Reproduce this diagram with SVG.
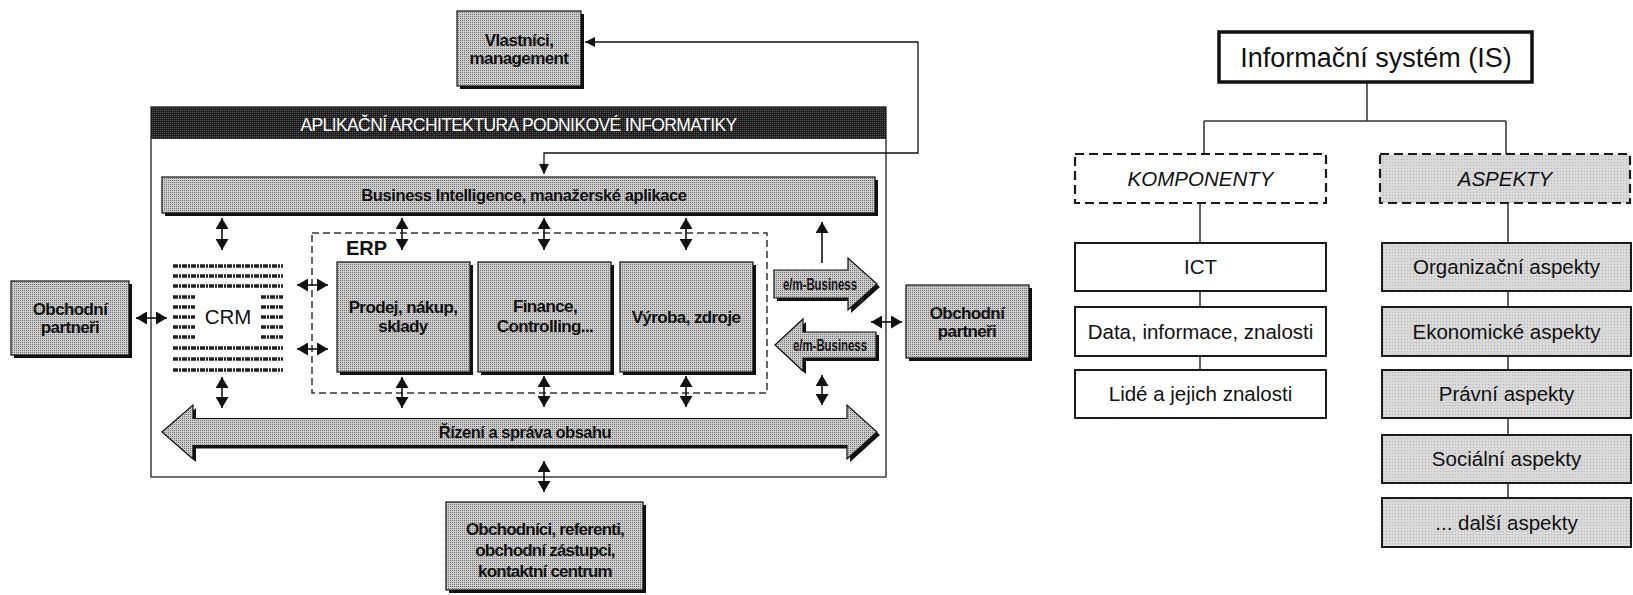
<svg xmlns="http://www.w3.org/2000/svg" width="1633" height="595" viewBox="0 0 1633 595">
<defs>
  <pattern id="ht" width="2" height="2" patternUnits="userSpaceOnUse">
    <rect width="2" height="2" fill="#cbcbcb"/>
    <rect width="1" height="1" fill="#747474"/>
  </pattern>
  <pattern id="htd" width="2" height="2" patternUnits="userSpaceOnUse">
    <rect width="2" height="2" fill="#1e1e1e"/>
    <rect width="1" height="1" fill="#555"/>
  </pattern>
  <pattern id="hts" width="3" height="3" patternUnits="userSpaceOnUse">
    <rect width="3" height="3" fill="#d9d9d9"/>
    <rect width="1" height="1" fill="#b4b4b4"/>
  </pattern>
  <marker id="ah" viewBox="0 0 11 13" refX="11" refY="6.5" markerWidth="11" markerHeight="13" markerUnits="userSpaceOnUse" orient="auto-start-reverse">
    <path d="M0,0 L11,6.5 L0,13 Z" fill="#111"/>
  </marker>
  <marker id="ahs" viewBox="0 0 10 10" refX="10" refY="5" markerWidth="10" markerHeight="10" markerUnits="userSpaceOnUse" orient="auto-start-reverse">
    <path d="M0,0 L10,5 L0,10 Z" fill="#111"/>
  </marker>
</defs>
<style>
  .gbox { fill: url(#ht); stroke: #111; stroke-width: 1.2; }
  .shadow { fill: #111; }
  .lb { font-family: "Liberation Sans", Arial, sans-serif; font-weight: bold; font-size: 17px; letter-spacing: -0.6px; fill: #111; text-anchor: middle; }
  .em { font-family: "Liberation Sans", Arial, sans-serif; font-weight: bold; font-size: 16px; fill: #111; text-anchor: middle; }
  .dbl { stroke: #111; stroke-width: 1.6; fill: none; marker-start: url(#ah); marker-end: url(#ah); }
  .rb { fill: #fff; stroke: #1a1a1a; stroke-width: 2; }
  .rg { fill: url(#hts); stroke: #1a1a1a; stroke-width: 2; }
  .rt { font-family: "Liberation Sans", Arial, sans-serif; font-size: 20.5px; fill: #111; text-anchor: middle; }
  .tree { stroke: #333; stroke-width: 1.5; fill: none; }
  .stripe { stroke: #222; stroke-width: 3.4; stroke-dasharray: 5 1 2 1; fill: none; }
</style>

<!-- LEFT DIAGRAM -->
<g id="frame">
  <rect x="151" y="107" width="735" height="370" fill="#fff" stroke="#333" stroke-width="1.4"/>
  <rect x="151" y="107" width="735" height="32" fill="url(#htd)"/>
  <text x="518.5" y="131" font-family="Liberation Sans, Arial, sans-serif" font-size="17.5" letter-spacing="-0.6" fill="#fff" text-anchor="middle">APLIKAČNÍ ARCHITEKTURA PODNIKOVÉ INFORMATIKY</text>
</g>

<g id="vlastnici">
  <rect class="shadow" x="460" y="14" width="124" height="75"/>
  <rect class="gbox" x="457" y="11" width="124" height="75"/>
  <text class="lb" x="519" y="46">Vlastníci,</text>
  <text class="lb" x="519" y="64">management</text>
</g>

<g id="bi">
  <rect class="shadow" x="165" y="180" width="713" height="36"/>
  <rect class="gbox" x="162" y="177" width="713" height="36"/>
  <text class="lb" x="524" y="201" style="font-size:16.5px;letter-spacing:-0.4px">Business Intelligence, manažerské aplikace</text>
</g>

<g id="erp">
  <rect x="312" y="233" width="455" height="160" fill="none" stroke="#333" stroke-width="1.5" stroke-dasharray="7 4"/>
  <text x="346" y="255" font-family="Liberation Sans, Arial, sans-serif" font-weight="bold" font-size="20" fill="#111">ERP</text>
</g>

<g id="crm">
  <path class="stripe" d="M173,266 H283 M173,276 H283 M173,286 H283 M173,348 H283 M173,359 H283 M173,370 H283 M173,297 H195 M261,297 H283 M173,307 H195 M261,307 H283 M173,317 H195 M261,317 H283 M173,327 H195 M261,327 H283 M173,337 H195 M261,337 H283"/>
  <text x="228" y="324" font-family="Liberation Sans, Arial, sans-serif" font-size="20.5" fill="#111" text-anchor="middle">CRM</text>
</g>

<g id="prodej">
  <rect class="shadow" x="340" y="265" width="133" height="110"/>
  <rect class="gbox" x="337" y="262" width="133" height="110"/>
  <text class="lb" x="403" y="313">Prodej, nákup,</text>
  <text class="lb" x="403" y="332">sklady</text>
</g>

<g id="finance">
  <rect class="shadow" x="481" y="265" width="133" height="110"/>
  <rect class="gbox" x="478" y="262" width="133" height="110"/>
  <text class="lb" x="545" y="312">Finance,</text>
  <text class="lb" x="545" y="332">Controlling...</text>
</g>

<g id="vyroba">
  <rect class="shadow" x="623" y="265" width="133" height="110"/>
  <rect class="gbox" x="620" y="262" width="133" height="110"/>
  <text class="lb" x="686" y="323">Výroba, zdroje</text>
</g>

<g id="partneri-left">
  <rect class="shadow" x="14" y="284" width="118" height="74"/>
  <rect class="gbox" x="11" y="281" width="118" height="74"/>
  <text class="lb" x="70" y="315">Obchodní</text>
  <text class="lb" x="70" y="333">partneři</text>
</g>

<g id="partneri-right">
  <rect class="shadow" x="909" y="288" width="123" height="73"/>
  <rect class="gbox" x="906" y="285" width="123" height="73"/>
  <text class="lb" x="967" y="319">Obchodní</text>
  <text class="lb" x="967" y="337">partneři</text>
</g>

<g id="ebusiness-out">
  <path class="shadow" d="M777,273 H851 V261 L880,287 L851,313 V301 H777 Z"/>
  <path class="gbox" d="M774,270 H848 V258 L877,284 L848,310 V298 H774 Z"/>
  <text class="em" x="820" y="290" textLength="74" lengthAdjust="spacingAndGlyphs">e/m-Business</text>
</g>

<g id="ebusiness-in">
  <path class="shadow" d="M778,348 L806,322 V335 H879 V361 H806 V374 Z"/>
  <path class="gbox" d="M775,345 L803,319 V332 H876 V358 H803 V371 Z"/>
  <text class="em" x="830" y="351" textLength="74" lengthAdjust="spacingAndGlyphs">e/m-Business</text>
</g>

<g id="rizeni">
  <path class="shadow" d="M165,435 L196,408 V421.5 H850 V408 L880,435 L850,462 V448.5 H196 V462 Z"/>
  <path class="gbox" d="M162,432 L193,405 V418.5 H847 V405 L877,432 L847,459 V445.5 H193 V459 Z"/>
  <text class="lb" x="525" y="438" style="font-size:16.5px;letter-spacing:-0.5px">Řízení a správa obsahu</text>
</g>

<g id="obchodnici">
  <rect class="shadow" x="449" y="505" width="197" height="88"/>
  <rect class="gbox" x="446" y="502" width="197" height="88"/>
  <text class="lb" x="545" y="535" style="letter-spacing:-0.8px">Obchodníci, referenti,</text>
  <text class="lb" x="545" y="556" style="letter-spacing:-0.8px">obchodní zástupci,</text>
  <text class="lb" x="545" y="577" style="letter-spacing:-0.8px">kontaktní centrum</text>
</g>

<g id="connectors-left">
  <path d="M585,42 H918 V153 H544 V174" fill="none" stroke="#111" stroke-width="1.3" marker-start="url(#ahs)" marker-end="url(#ahs)"/>
  <line class="dbl" x1="222" y1="218" x2="222" y2="250"/>
  <line class="dbl" x1="402" y1="218" x2="402" y2="250"/>
  <line class="dbl" x1="544" y1="218" x2="544" y2="250"/>
  <line class="dbl" x1="686" y1="218" x2="686" y2="250"/>
  <line x1="822" y1="263" x2="822" y2="222" stroke="#111" stroke-width="1.6" marker-end="url(#ah)"/>
  <line class="dbl" x1="136" y1="318" x2="167" y2="318"/>
  <line class="dbl" x1="297" y1="285" x2="328" y2="285"/>
  <line class="dbl" x1="297" y1="349" x2="328" y2="349"/>
  <line class="dbl" x1="871" y1="322" x2="902" y2="322"/>
  <line class="dbl" x1="222" y1="377" x2="222" y2="408"/>
  <line class="dbl" x1="402" y1="377" x2="402" y2="408"/>
  <line class="dbl" x1="544" y1="376" x2="544" y2="407"/>
  <line class="dbl" x1="686" y1="376" x2="686" y2="407"/>
  <line class="dbl" x1="822" y1="375" x2="822" y2="405"/>
  <line class="dbl" x1="544" y1="461" x2="544" y2="492"/>
</g>

<!-- RIGHT DIAGRAM -->
<g id="connectors-right">
  <path class="tree" d="M1367,82 V121 M1204,121 H1506 M1204,121 V154 M1506,121 V154"/>
  <path class="tree" d="M1200,203 V243 M1200,291 V307 M1200,356 V370"/>
  <path class="tree" d="M1508,203 V243 M1508,291 V307 M1508,356 V370 M1508,418 V435 M1508,483 V498"/>
</g>

<g id="is">
  <rect x="1219" y="32" width="313" height="50" fill="#fff" stroke="#111" stroke-width="3.5"/>
  <text x="1376" y="67" font-family="Liberation Sans, Arial, sans-serif" font-size="27" fill="#111" text-anchor="middle">Informační systém (IS)</text>
</g>

<g id="komponenty">
  <rect x="1075" y="154" width="251" height="49" fill="#fff" stroke="#1a1a1a" stroke-width="2.2" stroke-dasharray="9 5"/>
  <text class="rt" x="1200.5" y="186" font-style="italic">KOMPONENTY</text>
</g>
<g id="aspekty">
  <rect x="1380" y="154" width="250" height="49" fill="url(#hts)" stroke="#1a1a1a" stroke-width="2.2" stroke-dasharray="9 5"/>
  <text class="rt" x="1505" y="186" font-style="italic">ASPEKTY</text>
</g>

<g id="ict">
  <rect class="rb" x="1075" y="243" width="251" height="48"/>
  <text class="rt" x="1200.5" y="274">ICT</text>
</g>
<g id="data">
  <rect class="rb" x="1075" y="307" width="251" height="49"/>
  <text class="rt" x="1200.5" y="339">Data, informace, znalosti</text>
</g>
<g id="lide">
  <rect class="rb" x="1075" y="370" width="251" height="48"/>
  <text class="rt" x="1200.5" y="401">Lidé a jejich znalosti</text>
</g>

<g id="organizacni">
  <rect class="rg" x="1382" y="243" width="249" height="48"/>
  <text class="rt" x="1506.5" y="274">Organizační aspekty</text>
</g>
<g id="ekonomicke">
  <rect class="rg" x="1382" y="307" width="249" height="49"/>
  <text class="rt" x="1506.5" y="339">Ekonomické aspekty</text>
</g>
<g id="pravni">
  <rect class="rg" x="1382" y="370" width="249" height="48"/>
  <text class="rt" x="1506.5" y="401">Právní aspekty</text>
</g>
<g id="socialni">
  <rect class="rg" x="1382" y="435" width="249" height="48"/>
  <text class="rt" x="1506.5" y="466">Sociální aspekty</text>
</g>
<g id="dalsi">
  <rect class="rg" x="1382" y="498" width="249" height="49"/>
  <text class="rt" x="1506.5" y="530">... další aspekty</text>
</g>
</svg>
